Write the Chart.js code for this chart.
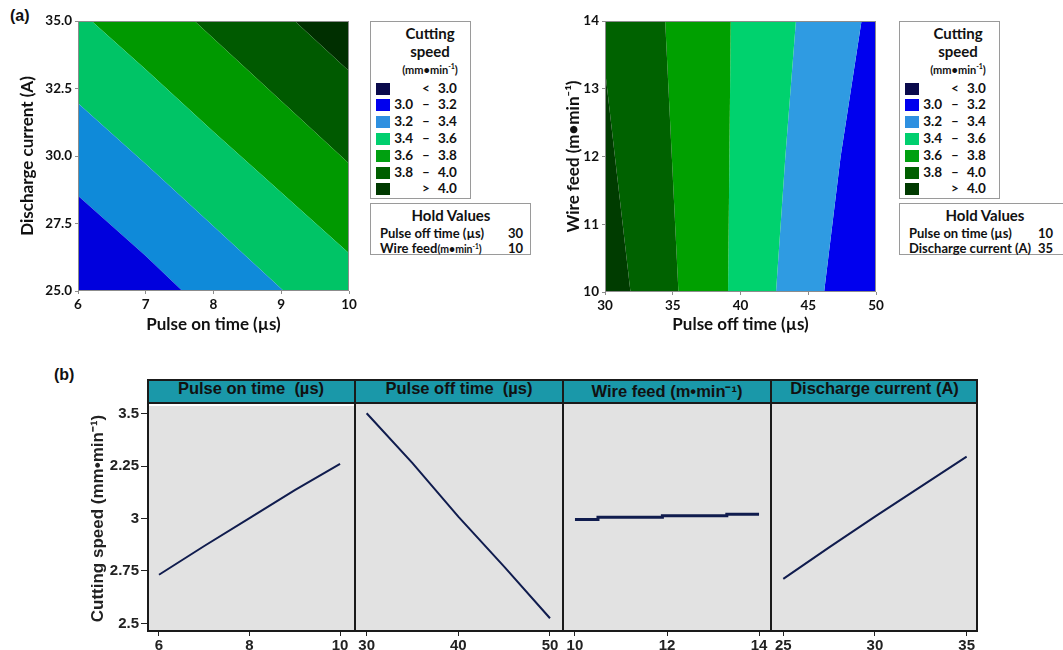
<!DOCTYPE html>
<html>
<head>
<meta charset="utf-8">
<script src="https://cdn.jsdelivr.net/npm/chart.js@4.4.1/dist/chart.umd.min.js"></script>
<style>
  body { margin: 0; background: #fff; }
  #page { position: relative; width: 1063px; height: 650px; overflow: hidden; font-family: Lato, "Noto Sans", sans-serif; color: #111; }
  canvas { position: absolute; }
  .tag { position: absolute; font: bold 16px "Liberation Sans", Arial, sans-serif; }
  .box { position: absolute; border: 1px solid #9a9a9a; box-sizing: border-box; background: #fff; }
  .box div { position: absolute; white-space: nowrap; font-weight: 700; }
  .sw { width: 14px; height: 12px; }
  #strip { position: absolute; left: 147px; top: 379px; width: 831px; height: 24px; background: #1a98a9; }
  #strip div { position: absolute; top: 0; height: 24px; line-height: 24px; text-align: center; white-space: pre;
               font: bold 16.5px "Liberation Sans", Arial, sans-serif; color: #111; }
  #frameB { position: absolute; left: 147px; top: 379px; width: 831px; height: 253px; border: 2px solid #1a1a1a;
            box-sizing: border-box; pointer-events: none; }
  .div { position: absolute; top: 379px; width: 2px; height: 253px; background: #1a1a1a; }
  .hline { position: absolute; left: 147px; top: 402px; width: 831px; height: 2px; background: #1a1a1a; }
</style>
</head>
<body>
<div id="page">
  <div class="tag" style="left:10px;top:7px">(a)</div>
  <div class="tag" style="left:54px;top:366px">(b)</div>
  <canvas id="cOn" width="360" height="340" style="left:0;top:0"></canvas>
  <canvas id="cOff" width="350" height="340" style="left:540px;top:0"></canvas>
  <div id="strip"></div>
  <canvas id="p1" width="295" height="258" style="left:60px;top:395px"></canvas>
  <canvas id="p2" width="208" height="258" style="left:355px;top:395px"></canvas>
  <canvas id="p3" width="208" height="258" style="left:563px;top:395px"></canvas>
  <canvas id="p4" width="207" height="258" style="left:771px;top:395px"></canvas>
  <div id="frameB"></div>
  <div class="hline"></div>
  <div class="div" style="left:354px"></div>
  <div class="div" style="left:562px"></div>
  <div class="div" style="left:770px"></div>
</div>
<script>
// (a) left: contour boundaries (discharge current, A) read at these pulse on times
const onTimeGrid = [6, 7, 8, 9, 10];
const onTimeLevel32 = [28.53, 26.3, 23.9, 21.5, 19.1];
const onTimeLevel34 = [31.95, 29.7, 27.4, 25.08, 22.8];
const onTimeLevel36 = [35.45, 33.2, 30.9, 28.65, 26.4];
const onTimeLevel38 = [38.98, 36.67, 34.35, 32.04, 29.72];
const onTimeLevel40 = [42.4, 40.08, 37.77, 35.46, 33.15];

// (a) right: contour boundaries (pulse off time, µs) read at these wire feeds
const wireGrid = [10, 12, 14];
const offTimeLevel40 = [31.88, 30.73, 29.59];
const offTimeLevel38 = [35.42, 34.93, 34.44];
const offTimeLevel36 = [39.08, 39.18, 39.28];
const offTimeLevel34 = [42.62, 43.31, 44.09];
const offTimeLevel32 = [46.17, 47.39, 48.93];

const legendLow = ['', '3.0', '3.2', '3.4', '3.6', '3.8', ''];
const legendSep = ['<', '–', '–', '–', '–', '–', '>'];
const legendHigh = ['3.0', '3.2', '3.4', '3.6', '3.8', '4.0', '4.0'];

// (b) main effects plot
const panelTitles = ['Pulse on time  (µs)', 'Pulse off time  (µs)', 'Wire feed (m•min⁻¹)', 'Discharge current (A)'];
const onTimeX = [6, 7, 8, 9, 10];
const onTimeSpeed = [2.732, 2.869, 3.002, 3.135, 3.26];
const offTimeX = [30, 35, 40, 45, 50];
const offTimeSpeed = [3.488, 3.253, 3.002, 2.767, 2.524];
const feedX = [10, 10.5, 11.9, 13.3, 14];
const feedSpeed = [2.988, 2.999, 3.006, 3.013, 3.013];
const currentX = [25, 27.5, 30, 32.5, 35];
const currentSpeed = [2.709, 2.857, 3.002, 3.143, 3.284];
const onTimeTicks = [6, 8, 10];
const offTimeTicks = [30, 40, 50];
const feedTicks = [10, 12, 14];
const currentTicks = [25, 30, 35];
const speedTicks = [2.5, 2.75, 3, 3.25, 3.5];
const speedTickLabels = ['2.5', '2.75', '3', '2.25', '3.5'];

const colorsOn = ['#0b0b4e', '#0000dd', '#0f8ad9', '#00c466', '#009900', '#005a00', '#002f00'];
const colorsOff = ['#0b0b4e', '#0000ee', '#2f9be2', '#00d26e', '#00a000', '#006200', '#003c00'];
const colorsLegend = ['#0a0a4c', '#0000ee', '#2e90e0', '#00cf6e', '#00a010', '#005f00', '#003a00'];

const topFont = "Lato, 'Noto Sans', sans-serif";
const arial = "'Liberation Sans', Arial, sans-serif";

const panelPlugin = {
  id: 'panel',
  beforeDraw(chart, args, opts) {
    if (!opts.fill) return;
    const a = chart.chartArea;
    chart.ctx.save();
    chart.ctx.fillStyle = opts.fill;
    chart.ctx.fillRect(a.left, a.top, a.right - a.left, a.bottom - a.top);
    chart.ctx.restore();
  },
  afterDraw(chart, args, opts) {
    if (!opts.stroke) return;
    const a = chart.chartArea;
    chart.ctx.save();
    chart.ctx.strokeStyle = opts.stroke;
    chart.ctx.lineWidth = 1;
    chart.ctx.strokeRect(a.left + 0.5, a.top + 0.5, a.right - a.left - 1, a.bottom - a.top - 1);
    chart.ctx.restore();
  }
};

function band(xs, ys, color, fill, horizontal) {
  return {
    data: xs.map((v, i) => horizontal ? { x: ys[i], y: v } : { x: v, y: ys[i] }),
    borderWidth: 0, borderColor: 'transparent', pointRadius: 0, tension: 0,
    backgroundColor: color, fill: fill
  };
}

function contourAxis(min, max, step, title, pad, fixed, size, fmt) {
  return {
    type: 'linear', min: min, max: max,
    ticks: { stepSize: step, color: '#111', padding: 3, font: { family: topFont, size: 13.5, weight: 'bold' }, callback: fmt },
    grid: { drawOnChartArea: false, tickLength: 3, color: '#8c8c8c' },
    border: { display: false },
    title: { display: true, text: title, color: '#111', padding: pad, font: { family: topFont, size: 17, weight: 'bold' } },
    afterFit: s => { s[fixed] = size; }
  };
}

const baseOpts = {
  responsive: false, animation: false, events: [],
  plugins: { legend: { display: false }, tooltip: { enabled: false } }
};

new Chart(document.getElementById('cOn'), {
  type: 'line',
  data: { datasets: [
    band(onTimeGrid, onTimeLevel32, colorsOn[1], 'start'),
    band(onTimeGrid, onTimeLevel34, colorsOn[2], '-1'),
    band(onTimeGrid, onTimeLevel36, colorsOn[3], '-1'),
    band(onTimeGrid, onTimeLevel38, colorsOn[4], '-1'),
    band(onTimeGrid, onTimeLevel40, colorsOn[5], '-1'),
    band(onTimeGrid, onTimeLevel40, colorsOn[6], 'end')
  ] },
  options: Object.assign({}, baseOpts, {
    layout: { padding: { top: 21, right: 11 } },
    plugins: Object.assign({}, baseOpts.plugins, { panel: { stroke: '#8c8c8c' } }),
    scales: {
      x: contourAxis(6, 10, 1, 'Pulse on time (µs)', { top: 2, bottom: 5 }, 'height', 49),
      y: contourAxis(25, 35, 2.5, 'Discharge current (A)', { top: 17, bottom: 4 }, 'width', 78, v => v.toFixed(1))
    }
  }),
  plugins: [panelPlugin]
});

new Chart(document.getElementById('cOff'), {
  type: 'line',
  data: { datasets: [
    band(wireGrid, offTimeLevel40, colorsOff[6], { value: 25 }, true),
    band(wireGrid, offTimeLevel38, colorsOff[5], '-1', true),
    band(wireGrid, offTimeLevel36, colorsOff[4], '-1', true),
    band(wireGrid, offTimeLevel34, colorsOff[3], '-1', true),
    band(wireGrid, offTimeLevel32, colorsOff[2], '-1', true),
    band(wireGrid, offTimeLevel32, colorsOff[1], { value: 55 }, true)
  ] },
  options: Object.assign({}, baseOpts, {
    indexAxis: 'y',
    layout: { padding: { top: 21, right: 14 } },
    plugins: Object.assign({}, baseOpts.plugins, { panel: { stroke: '#8c8c8c' } }),
    scales: {
      x: contourAxis(30, 50, 5, 'Pulse off time (µs)', { top: 2, bottom: 5 }, 'height', 48),
      y: contourAxis(10, 14, 1, 'Wire feed (m•min⁻¹)', { top: 23, bottom: 4 }, 'width', 65)
    }
  }),
  plugins: [panelPlugin]
});

// legends
function legendBox(left, cx) {
  const box = document.createElement('div');
  box.className = 'box';
  box.style.cssText = `left:${left}px;top:21px;width:101px;height:178px`;
  let html = `<div style="left:${cx - 40}px;width:80px;text-align:center;top:2px;font-size:15px">Cutting</div>
    <div style="left:${cx - 40}px;width:80px;text-align:center;top:20px;font-size:15px">speed</div>
    <div style="left:${cx - 40}px;width:80px;text-align:center;top:40px;font-size:11px">(mm•min<sup style="font-size:7px">-1</sup>)</div>`;
  colorsLegend.forEach((c, i) => {
    const y = 66.7 + i * 16.77;
    html += `<div class="sw" style="left:5px;top:${y - 6}px;background:${c}"></div>
      <div style="left:22px;width:20px;text-align:right;top:${y - 9}px;font-size:13.5px">${legendLow[i]}</div>
      <div style="left:45px;width:20px;text-align:center;top:${y - 9}px;font-size:13.5px">${legendSep[i]}</div>
      <div style="left:67px;top:${y - 9}px;font-size:13.5px">${legendHigh[i]}</div>`;
  });
  box.innerHTML = html;
  document.getElementById('page').appendChild(box);
}
legendBox(370, 59);
legendBox(899, 58);

function holdBox(left, width, cx, rows, right) {
  const box = document.createElement('div');
  box.className = 'box';
  box.style.cssText = `left:${left}px;top:203px;width:${width}px;height:52px`;
  let html = `<div style="left:${cx - 60}px;width:120px;text-align:center;top:2px;font-size:15px">Hold Values</div>`;
  rows.forEach((r, i) => {
    const y = 21 + i * 15;
    html += `<div style="left:9px;top:${y}px;font-size:13px">${r[0]}</div>
      <div style="left:${right - 30}px;width:30px;text-align:right;top:${y}px;font-size:13px">${r[1]}</div>`;
  });
  box.innerHTML = html;
  document.getElementById('page').appendChild(box);
}
holdBox(370, 161, 80, [['Pulse off time (µs)', '30'], ['Wire feed<span style="font-size:10.5px">(m•min<sup style="font-size:6.5px">-1</sup>)</span>', '10']], 152);
holdBox(899, 175, 85, [['Pulse on time (µs)', '10'], ['Discharge current (A)', '35']], 153);

// (b) header strip
const edges = [0, 208, 416, 624, 831];
document.getElementById('strip').innerHTML = panelTitles.map((t, i) =>
  `<div style="left:${edges[i]}px;width:${edges[i + 1] - edges[i]}px">${t}</div>`).join('');

function effectChart(id, xs, ys, ticks, min, max, showY, width) {
  const yAxis = {
    type: 'linear', min: 2.464, max: 3.536, display: showY,
    afterBuildTicks: s => { s.ticks = speedTicks.map(v => ({ value: v })); },
    ticks: { color: '#222', padding: 2, font: { family: arial, size: 15, weight: 'bold' }, callback: (v, i) => speedTickLabels[i] },
    grid: { drawOnChartArea: false, tickLength: 6, color: '#222' },
    border: { display: false },
    title: { display: true, text: 'Cutting speed (mm•min⁻¹)', color: '#222', padding: { top: 28, bottom: 2 },
             font: { family: arial, size: 17, weight: 'bold' } }
  };
  if (showY) yAxis.afterFit = s => { s.width = 87; };
  new Chart(document.getElementById(id), {
    type: 'line',
    data: { datasets: [{
      data: xs.map((x, i) => ({ x: x, y: ys[i] })),
      borderColor: '#101c4e', borderWidth: width, pointRadius: 0, tension: 0,
      stepped: id === 'p3' ? 'before' : false, fill: false
    }] },
    options: Object.assign({}, baseOpts, {
      layout: { padding: { top: 8 } },
      plugins: Object.assign({}, baseOpts.plugins, { panel: { fill: '#e2e2e2' } }),
      scales: {
        x: {
          type: 'linear', min: min, max: max,
          afterBuildTicks: s => { s.ticks = ticks.map(v => ({ value: v })); },
          ticks: { color: '#222', padding: 1, maxRotation: 0, autoSkip: false, font: { family: arial, size: 15, weight: 'bold' } },
          grid: { drawOnChartArea: false, tickLength: 5, color: '#222' },
          border: { display: false },
          afterFit: s => { s.height = 22; }
        },
        y: yAxis
      }
    }),
    plugins: [panelPlugin]
  });
}
effectChart('p1', onTimeX, onTimeSpeed, onTimeTicks, 5.735, 10.33, true, 2);
effectChart('p2', offTimeX, offTimeSpeed, offTimeTicks, 28.73, 51.42, false, 2);
effectChart('p3', feedX, feedSpeed, feedTicks, 9.74, 14.26, false, 3);
effectChart('p4', currentX, currentSpeed, currentTicks, 24.33, 35.62, false, 2);
</script>
</body>
</html>
